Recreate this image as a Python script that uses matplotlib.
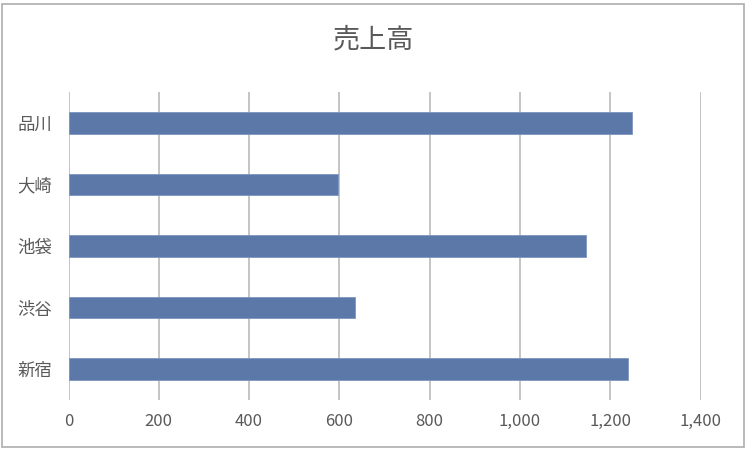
import matplotlib.pyplot as plt
from matplotlib.patches import Rectangle
from matplotlib.ticker import FuncFormatter

plt.rcParams['font.family'] = ['Noto Sans CJK JP', 'DejaVu Sans']

stores = ['新宿', '渋谷', '池袋', '大崎', '品川']
sales = [1240, 634, 1147, 596, 1248]
xticks = [0, 200, 400, 600, 800, 1000, 1200, 1400]

text_col = '#595959'
grid_col = '#bfbfbf'
bar_col = '#5b78a9'


def main():
  fig = plt.figure(figsize=(7.46, 4.49), dpi=100)
  ax = fig.add_axes([68.5/746, 49/449, 632/746, 308/449])

  ax.barh(range(len(stores)), sales, height=0.35, color=bar_col,
          edgecolor='#7d96c0', linewidth=0.6, zorder=3)

  ax.set_xlim(0, 1400)
  ax.set_ylim(-0.5, len(stores) - 0.5)
  ax.set_xticks(xticks)
  ax.xaxis.set_major_formatter(FuncFormatter(lambda v, p: '{:,}'.format(int(v))))
  ax.set_yticks(range(len(stores)))
  ax.set_yticklabels(stores)

  ax.grid(axis='x', color=grid_col, linewidth=1.3, zorder=0)
  ax.set_axisbelow(True)
  for s in ax.spines.values():
    s.set_visible(False)
  ax.tick_params(axis='x', length=0, pad=9, labelsize=12, labelcolor=text_col)
  ax.tick_params(axis='y', length=0, pad=12, labelsize=12.5, labelcolor=text_col)

  fig.text(0.5, 1 - 40/449, '売上高', ha='center', va='center',
           fontsize=19.5, color=text_col)

  fig.patches.append(Rectangle((1.5/746, 2.5/449), 742/746, 443/449,
                               transform=fig.transFigure, fill=False,
                               edgecolor='#b4b4b4', linewidth=1.3))

  fig.savefig('out.png', dpi=100)


if __name__ == "__main__":
    main()
